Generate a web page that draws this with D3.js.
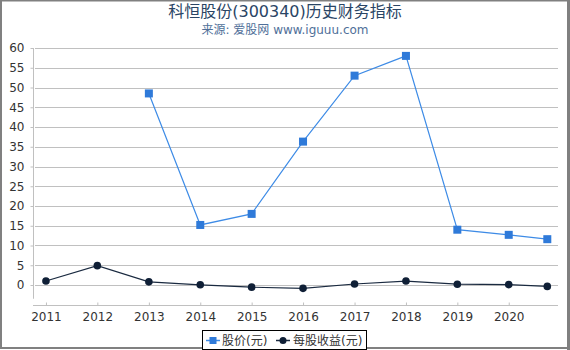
<!DOCTYPE html>
<html><head><meta charset="utf-8">
<script src="https://cdn.jsdelivr.net/npm/d3@7"></script>
<style>
body{margin:0;background:#fff;}
svg{display:block;font-family:"DejaVu Sans","Noto Sans CJK SC",sans-serif;}
</style></head>
<body><svg id="c" width="570" height="350"></svg>
<script>
const dates = ["2011-01-01","2012-01-01","2013-01-01","2014-01-01","2015-01-01","2016-01-01","2017-01-01","2018-01-01","2019-01-01","2020-01-01","2020-10-01"];
const price = [null,null,48.5,15.2,18.0,36.3,53.0,58.0,14.0,12.7,11.6];
const eps = [1.0,4.9,0.8,0.05,-0.55,-0.85,0.25,1.0,0.2,0.1,-0.35];
const yTicks = [0,5,10,15,20,25,30,35,40,45,50,55,60];
const xTickYears = [2011,2012,2013,2014,2015,2016,2017,2018,2019,2020];
const title = "科恒股份(300340)历史财务指标";
const subtitle = "来源: 爱股网 www.iguuu.com";
const seriesNames = ["股价(元)","每股收益(元)"];

const parse = d3.timeParse("%Y-%m-%d");
const svg = d3.select("#c");
const W=570,H=350;
const L=33,R=558,T=48,B=304.75;

svg.append("rect").attr("x",1).attr("y",0.5).attr("width",567.5).attr("height",347.5)
  .attr("fill","#fff").attr("stroke","#808080").attr("stroke-width",2);
svg.append("line").attr("x1",568.5).attr("x2",568.5).attr("y1",0).attr("y2",350).attr("stroke","#808080").attr("stroke-width",3);

const x = d3.scaleTime().domain([parse("2010-10-01"),parse("2020-12-16")]).range([L,R]);
const y = d3.scaleLinear().domain([-5,60]).range([B,T]);

// grid
const g = svg.append("g");
g.selectAll("line.grid").data(yTicks).join("line")
  .attr("x1",L+2).attr("x2",R).attr("y1",d=>Math.round(y(d))+0.5).attr("y2",d=>Math.round(y(d))+0.5)
  .attr("stroke","#c0c0c0").attr("stroke-width",1);

// y axis
const yAxis = d3.axisLeft(y).tickValues(yTicks).tickSize(3).tickPadding(6);
const ya = svg.append("g").attr("transform",`translate(${L+0.5},0)`).call(yAxis);
ya.select(".domain").attr("d",`M0,${T}V${B-6}`).attr("stroke","#c0c0c0");
ya.selectAll(".tick line").attr("stroke","#c0c0c0");
ya.selectAll("text").attr("font-size",12).attr("fill","#333").attr("font-family","DejaVu Sans");

// x axis
const xAxis = d3.axisBottom(x).tickValues(xTickYears.map(v=>new Date(v,0,1))).tickFormat(d3.timeFormat("%Y")).tickSize(-3).tickPadding(7);
const xa = svg.append("g").attr("transform",`translate(0,${Math.round(B)+0.5})`).call(xAxis);
xa.select(".domain").attr("d",`M${L},0H${R}`).attr("stroke","#c0c0c0");
xa.selectAll(".tick line").attr("stroke","#c0c0c0");
xa.selectAll("text").attr("font-size",12).attr("fill","#333").attr("font-family","DejaVu Sans");

// price line
const pData = dates.map((d,i)=>({d:parse(d),v:price[i]})).filter(o=>o.v!=null);
const eData = dates.map((d,i)=>({d:parse(d),v:eps[i]}));
const line = d3.line().x(o=>x(o.d)).y(o=>y(o.v));
svg.append("path").attr("d",line(pData)).attr("fill","none").attr("stroke","#3d8be6").attr("stroke-width",1.2);
svg.selectAll("rect.p").data(pData).join("rect")
  .attr("x",o=>x(o.d)-4).attr("y",o=>y(o.v)-4).attr("width",8).attr("height",8).attr("fill","#2f7ad9");

svg.append("path").attr("d",line(eData)).attr("fill","none").attr("stroke","#1a2a40").attr("stroke-width",1.2);
svg.selectAll("circle.e").data(eData).join("circle")
  .attr("cx",o=>x(o.d)).attr("cy",o=>y(o.v)).attr("r",3.8).attr("fill","#0f1f36");

// titles
svg.append("text").attr("x",285).attr("y",17).attr("text-anchor","middle").attr("font-size",16)
  .attr("fill","#2a4565").attr("font-family","DejaVu Sans, Noto Sans CJK SC").text(title);
svg.append("text").attr("x",285).attr("y",34).attr("text-anchor","middle").attr("font-size",12)
  .attr("fill","#4f6f99").text(subtitle);

// legend
const lg = svg.append("g");
lg.append("rect").attr("x",202.5).attr("y",330.5).attr("width",164).attr("height",19).attr("fill","#fff").attr("stroke","#000").attr("stroke-width",1);
lg.append("line").attr("x1",206).attr("x2",220).attr("y1",340.5).attr("y2",340.5).attr("stroke","#3d8be6").attr("stroke-width",1.5);
lg.append("rect").attr("x",209.5).attr("y",337).attr("width",7).attr("height",7).attr("fill","#2f7ad9");
lg.append("text").attr("x",222).attr("y",345).attr("font-size",12).attr("fill","#333").text(seriesNames[0]);
lg.append("line").attr("x1",276).attr("x2",290).attr("y1",340.5).attr("y2",340.5).attr("stroke","#1a2a40").attr("stroke-width",1.5);
lg.append("circle").attr("cx",283).attr("cy",340.5).attr("r",3.5).attr("fill","#0f1f36");
lg.append("text").attr("x",293).attr("y",345).attr("font-size",12).attr("fill","#333").text(seriesNames[1]);
</script></body></html>
